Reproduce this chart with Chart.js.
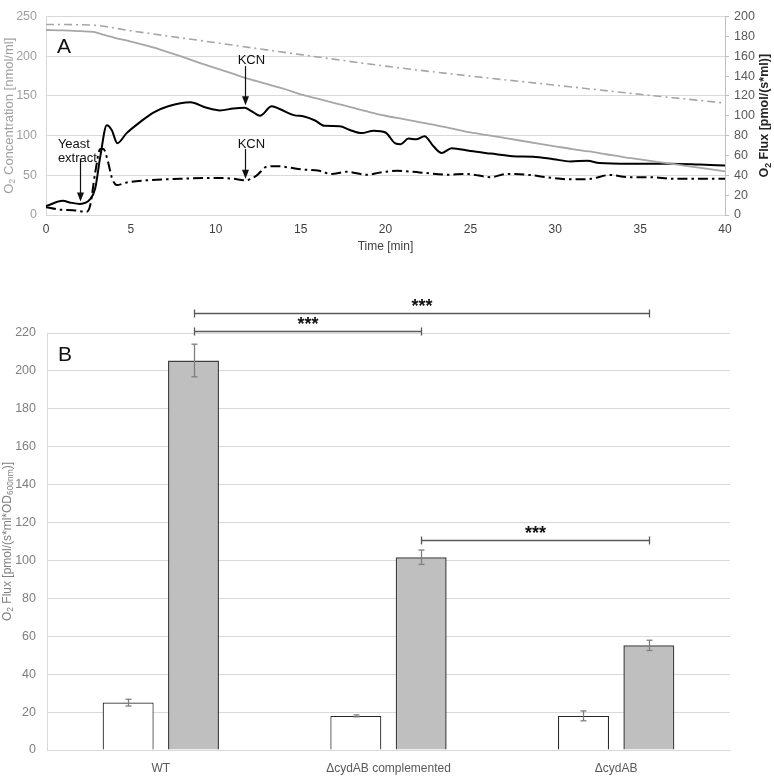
<!DOCTYPE html>
<html>
<head>
<meta charset="utf-8">
<script src="https://cdn.jsdelivr.net/npm/chart.js@4.4.1/dist/chart.umd.min.js"></script>
<style>
  html, body { margin: 0; padding: 0; background: #fff; }
  #wrapA { position: absolute; left: 0; top: 0; width: 774px; height: 262px; }
  #wrapB { position: absolute; left: 0; top: 270px; width: 774px; height: 513px; }
</style>
</head>
<body>
<div id="wrapA"><canvas id="chartA" width="774" height="262"></canvas></div>
<div id="wrapB"><canvas id="chartB" width="774" height="513"></canvas></div>
<script>
const FONT = '"Liberation Sans", Arial, sans-serif';
Chart.defaults.font.family = FONT;
Chart.defaults.font.size = 12;

// ---- panel A data (time in min) ----
// O2 concentration, solid gray (left axis)
const concTimeSolid = [0, 1, 2, 2.8, 3.3, 4, 5, 6, 7, 8, 9, 10, 11, 12, 13, 14, 15, 16, 17, 18, 19, 20,
  21, 22, 23, 24, 25, 26, 27, 28, 29, 30, 31, 32, 33, 34, 35, 36, 37, 38, 39, 40];
const concSolid = [233, 232.5, 231.5, 230.5, 227.5, 223.5, 218.5, 213, 206.5, 199.5, 192, 185, 178, 171, 165, 159,
  152, 146.5, 141, 135.5, 130, 125, 121, 117, 113, 108.5, 104, 100.5, 97, 93.5, 90, 86.5, 83, 80, 76.5, 73,
  70, 67, 64, 61, 58, 55];
// O2 concentration, dash-dot gray (left axis)
const concTimeDash = [0, 2.8, 5, 10, 15, 20, 25, 30, 35, 40];
const concDash = [240, 239, 232, 217, 202, 187.5, 175, 163.5, 152, 141];
// O2 flux, solid black (right axis)
const fluxTimeSolid = [0, 1, 1.4, 2, 2.6, 2.9, 3.2, 3.58, 3.87, 4.2, 4.75, 5.54, 6.3, 7.2, 8.5, 9.47, 10.25,
  11.04, 11.7, 12.1, 12.6, 13.3, 13.8, 14.6, 15.2, 15.85, 16.4, 17.3, 17.9, 18.6, 19.3, 20, 20.6, 20.9, 21.35,
  21.8, 22.3, 22.8, 23.3, 23.9, 25, 26.2, 27.5, 28.7, 29.9, 30.9, 31.9, 32.6, 34.4, 36.8, 38.5, 40];
const fluxSolid = [8.9, 14.3, 12.7, 11.1, 15.9, 27, 59, 90.5, 85.7, 72.4, 82.5, 93.6, 103, 109.5, 113.6, 108, 105.4,
  107.3, 108, 104.7, 100, 109.5, 106.5, 100.6, 99.3, 95.2, 89.8, 89.5, 85.7, 82.5, 85, 83.1, 72, 71.4, 77.1,
  76.2, 79.4, 69.8, 62.5, 67.3, 64.4, 61.9, 59.3, 58.7, 56.2, 54, 54.6, 52.4, 51.7, 51.7, 50.8, 49.8];
// O2 flux, dash-dot black (right axis)
const fluxTimeDash = [0, 0.8, 1.6, 2.4, 2.6, 2.9, 3.2, 3.38, 3.67, 3.87, 4.17, 4.75, 5.9, 7.9, 9.86, 11.04, 11.7,
  12.4, 13, 13.6, 14.4, 15, 16.1, 16.8, 17.7, 18.9, 19.7, 20.7, 22, 23.6, 24.8, 26.2, 27.1, 28.5, 29.5, 30.9,
  32.1, 33.2, 34.4, 35.8, 36.8, 38.3, 40];
const fluxDash = [7.9, 5.4, 4.8, 3.2, 9.5, 42.8, 66.6, 66.6, 52.4, 38, 30.2, 32.7, 34.9, 36.5, 37.4, 36.5, 34.9,
  39.7, 48.6, 49.2, 47.6, 46, 44.5, 41.3, 43.5, 40.6, 42.9, 44.5, 42.9, 40.6, 41.3, 38.1, 41.3, 40.3, 38, 35.9,
  36.5, 40.3, 38, 38, 36.5, 36.5, 36.5];

// annotations of panel A: time and flux value (right axis)
const arrowsA = [
  { t: 2, from: 57, to: 13.5 },
  { t: 11.7, from: 150, to: 110.5 },
  { t: 11.7, from: 66.5, to: 36.5 }
];
const labelsA = [
  { t: 0.7, v: 71.5, text: 'Yeast', align: 'left' },
  { t: 0.7, v: 57, text: 'extract', align: 'left' },
  { t: 12.1, v: 156, text: 'KCN', align: 'center' },
  { t: 12.1, v: 71.5, text: 'KCN', align: 'center' }
];

// ---- panel B data ----
const groups = ['WT', '\u0394cydAB complemented', '\u0394cydAB'];
const whiteVals = [25, 18, 18];
const whiteErr = [1.8, 0.5, 2.6];
const grayVals = [205.5, 101.7, 55.2];
const grayErr = [8.6, 3.8, 2.7];
// significance: [group a, group b, height on y axis]
const sigPairs = [[0, 2, 230.6], [0, 1, 220.8], [1, 2, 110.6]];

function pts(xs, ys) { return xs.map((x, i) => ({ x: x, y: ys[i] })); }

function richText(ctx, parts, x, y, size, color, bold, angle) {
  ctx.save();
  ctx.translate(x, y);
  ctx.rotate(angle || 0);
  ctx.fillStyle = color;
  ctx.textBaseline = 'middle';
  ctx.textAlign = 'left';
  const fnt = s => (bold ? 'bold ' : '') + s + 'px ' + FONT;
  let total = 0;
  parts.forEach(p => { ctx.font = fnt(p.sub ? size * 0.7 : size); total += ctx.measureText(p.t).width; });
  let cx = -total / 2;
  parts.forEach(p => {
    ctx.font = fnt(p.sub ? size * 0.7 : size);
    ctx.fillText(p.t, cx, p.sub ? size * 0.25 : 0);
    cx += ctx.measureText(p.t).width;
  });
  ctx.restore();
}

function drawArrow(ctx, x, y1, y2) {
  ctx.beginPath();
  ctx.moveTo(x, y1);
  ctx.lineTo(x, y2 - 7);
  ctx.stroke();
  ctx.beginPath();
  ctx.moveTo(x - 3.5, y2 - 9);
  ctx.lineTo(x + 3.5, y2 - 9);
  ctx.lineTo(x, y2);
  ctx.closePath();
  ctx.fill();
}

const annotA = {
  id: 'annotA',
  afterDatasetsDraw(chart) {
    const { ctx, chartArea: a, scales: { x, y2 } } = chart;
    ctx.save();
    ctx.strokeStyle = '#111';
    ctx.fillStyle = '#111';
    ctx.lineWidth = 1.2;
    arrowsA.forEach(ar => {
      drawArrow(ctx, Math.round(x.getPixelForValue(ar.t)) + 0.5, y2.getPixelForValue(ar.from), y2.getPixelForValue(ar.to));
    });
    ctx.font = '13px ' + FONT;
    ctx.textBaseline = 'middle';
    labelsA.forEach(l => {
      ctx.textAlign = l.align;
      ctx.fillText(l.text, x.getPixelForValue(l.t), y2.getPixelForValue(l.v));
    });
    ctx.font = '21px ' + FONT;
    ctx.textAlign = 'left';
    ctx.fillText('A', a.left + 11, a.top + 31);
    ctx.restore();
    // axis titles
    richText(ctx, [{ t: 'O' }, { t: '2', sub: true }, { t: ' Concentration [nmol/ml]' }],
      9, (a.top + a.bottom) / 2, 13, '#a0a0a0', false, -Math.PI / 2);
    richText(ctx, [{ t: 'O' }, { t: '2', sub: true }, { t: ' Flux [pmol/(s*ml)]' }],
      765, (a.top + a.bottom) / 2, 12.5, '#262626', true, -Math.PI / 2);
    richText(ctx, [{ t: 'Time [min]' }], (a.left + a.right) / 2, 247, 12, '#404040', false, 0);
  }
};

new Chart(document.getElementById('chartA'), {
  type: 'line',
  data: {
    datasets: [
      { data: pts(concTimeDash, concDash), yAxisID: 'y', borderColor: '#a6a6a6', borderWidth: 1.6,
        borderDash: [8, 4, 2, 4], cubicInterpolationMode: 'monotone' },
      { data: pts(concTimeSolid, concSolid), yAxisID: 'y', borderColor: '#a6a6a6', borderWidth: 1.8,
        cubicInterpolationMode: 'monotone' },
      { data: pts(fluxTimeDash, fluxDash), yAxisID: 'y2', borderColor: '#000', borderWidth: 2,
        borderDash: [10, 4, 2.5, 4], cubicInterpolationMode: 'monotone' },
      { data: pts(fluxTimeSolid, fluxSolid), yAxisID: 'y2', borderColor: '#000', borderWidth: 2,
        cubicInterpolationMode: 'monotone' }
    ]
  },
  options: {
    responsive: false,
    animation: false,
    layout: { padding: { top: 5, left: 0, right: 0, bottom: 0 } },
    elements: { point: { radius: 0 } },
    plugins: { legend: { display: false }, tooltip: { enabled: false } },
    scales: {
      x: {
        type: 'linear', min: 0, max: 40,
        ticks: { stepSize: 5, color: '#404040', padding: 7, font: { size: 12 } },
        grid: { display: false, drawTicks: false },
        border: { color: '#d9d9d9' },
        afterFit: s => { s.height = 47; }
      },
      y: {
        position: 'left', min: 0, max: 250,
        ticks: { stepSize: 50, color: '#a0a0a0', padding: 9, font: { size: 12.5 } },
        grid: { color: '#d9d9d9', drawTicks: false },
        border: { color: '#d9d9d9' },
        afterFit: s => { s.width = 46; }
      },
      y2: {
        position: 'right', min: 0, max: 200,
        ticks: { stepSize: 20, color: '#595959', padding: 5, font: { size: 12.5 } },
        grid: { drawOnChartArea: false, tickLength: 4, color: '#bfbfbf' },
        border: { color: '#bfbfbf' },
        afterFit: s => { s.width = 49; }
      }
    }
  },
  plugins: [annotA]
});

const annotB = {
  id: 'annotB',
  afterDatasetsDraw(chart) {
    const { ctx, chartArea: a, scales: { y } } = chart;
    const line = (x1, y1, x2, y2) => { ctx.beginPath(); ctx.moveTo(x1, y1); ctx.lineTo(x2, y2); ctx.stroke(); };
    ctx.save();
    // error bars
    ctx.strokeStyle = '#7f7f7f';
    ctx.lineWidth = 1.3;
    [[whiteVals, whiteErr], [grayVals, grayErr]].forEach(([vals, errs], di) => {
      chart.getDatasetMeta(di).data.forEach((bar, i) => {
        const x = Math.round(bar.x) + 0.5;
        const t = y.getPixelForValue(vals[i] + errs[i]);
        const b = y.getPixelForValue(vals[i] - errs[i]);
        line(x, t, x, b);
        line(x - 3, t, x + 3, t);
        line(x - 3, b, x + 3, b);
      });
    });
    // significance brackets
    const grayBars = chart.getDatasetMeta(1).data;
    ctx.strokeStyle = '#595959';
    ctx.lineWidth = 1.3;
    ctx.fillStyle = '#111';
    ctx.font = 'bold 18px ' + FONT;
    ctx.textAlign = 'center';
    ctx.textBaseline = 'alphabetic';
    sigPairs.forEach(([g1, g2, h]) => {
      const x1 = Math.round(grayBars[g1].x) + 0.5, x2 = Math.round(grayBars[g2].x) + 0.5;
      const yy = Math.round(y.getPixelForValue(h)) + 0.5;
      line(x1, yy, x2, yy);
      line(x1, yy - 4, x1, yy + 4);
      line(x2, yy - 4, x2, yy + 4);
      ctx.fillText('***', (x1 + x2) / 2, yy - 2);
    });
    ctx.fillStyle = '#111';
    ctx.font = '21px ' + FONT;
    ctx.textAlign = 'left';
    ctx.textBaseline = 'middle';
    ctx.fillText('B', a.left + 11, a.top + 22);
    ctx.restore();
    richText(ctx, [{ t: 'O' }, { t: '2', sub: true }, { t: ' Flux [pmol/(s*ml*OD' }, { t: '600nm', sub: true }, { t: ')]' }],
      8, (a.top + a.bottom) / 2, 12, '#7f7f7f', false, -Math.PI / 2);
  }
};

new Chart(document.getElementById('chartB'), {
  type: 'bar',
  data: {
    labels: groups,
    datasets: [
      { data: whiteVals, backgroundColor: '#ffffff', borderColor: '#262626', borderWidth: 1.2,
        categoryPercentage: 0.574, barPercentage: 0.78 },
      { data: grayVals, backgroundColor: '#bfbfbf', borderColor: '#404040', borderWidth: 1.5,
        categoryPercentage: 0.574, barPercentage: 0.78 }
    ]
  },
  options: {
    responsive: false,
    animation: false,
    layout: { padding: { top: 63, left: 0, right: 44, bottom: 0 } },
    plugins: { legend: { display: false }, tooltip: { enabled: false } },
    scales: {
      x: {
        ticks: { color: '#595959', padding: 11, font: { size: 12 } },
        grid: { display: false, drawTicks: false },
        border: { color: '#d9d9d9' },
        afterFit: s => { s.height = 33; }
      },
      y: {
        min: 0, max: 220,
        ticks: { stepSize: 20, color: '#7f7f7f', padding: 11, font: { size: 12.5 } },
        grid: { color: '#d9d9d9', drawTicks: false },
        border: { color: '#d9d9d9' },
        afterFit: s => { s.width = 47; }
      }
    }
  },
  plugins: [annotB]
});
</script>
</body>
</html>
